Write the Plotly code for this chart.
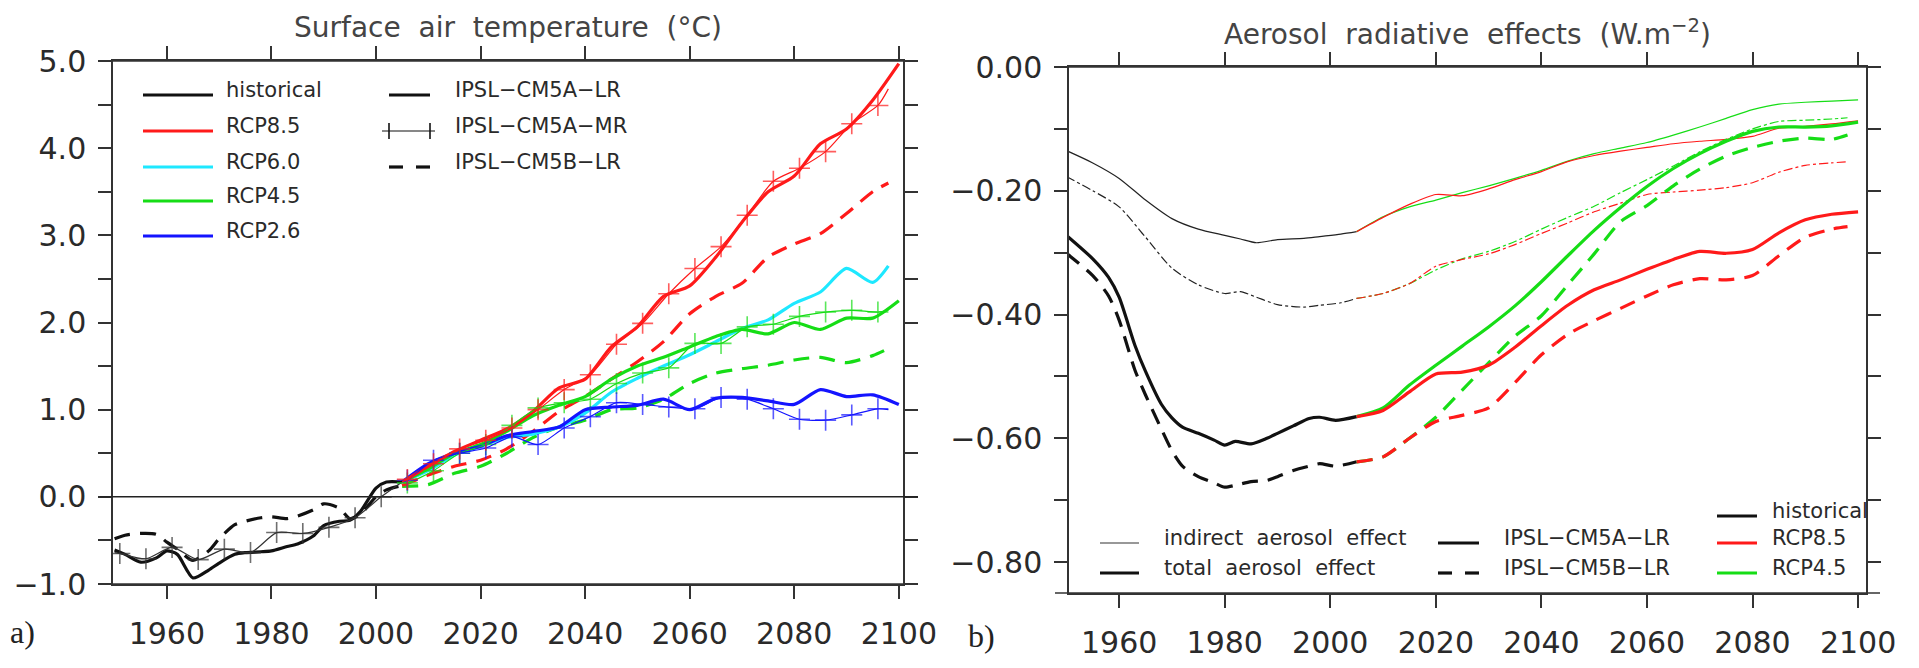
import plotly.graph_objects as go

W, H = 1919, 668
def px(x): return x / W
def py(y): return 1 - y / H

# ---------------- Left panel: surface air temperature (deg C) ----------------
hist_years = [1950, 1952, 1955, 1958, 1960, 1962, 1965, 1968, 1970, 1973, 1975, 1978, 1980,
              1983, 1985, 1988, 1990, 1993, 1995, 1997, 2000, 2002, 2005]
hist_lr = [-0.61, -0.66, -0.75, -0.70, -0.62, -0.66, -0.93, -0.84, -0.76, -0.66, -0.64, -0.63, -0.62,
           -0.57, -0.54, -0.45, -0.33, -0.28, -0.27, -0.17, 0.10, 0.17, 0.17]
hist_5b = [-0.48, -0.44, -0.42, -0.43, -0.52, -0.60, -0.73, -0.62, -0.48, -0.32, -0.28, -0.24, -0.23,
           -0.25, -0.22, -0.15, -0.08, -0.13, -0.25, -0.20, 0.00, 0.08, 0.13]
hist_mr_years = [1950, 1951, 1956, 1961, 1966, 1971, 1976, 1981, 1986, 1991, 1996, 2001, 2005]
hist_mr = [-0.64, -0.65, -0.71, -0.58, -0.72, -0.60, -0.64, -0.41, -0.42, -0.35, -0.24, 0.00, 0.17]

rcp_years = [2005, 2010, 2015, 2020, 2025, 2030, 2035, 2040, 2045, 2050, 2055, 2060, 2065, 2070,
             2075, 2080, 2085, 2090, 2095, 2100]
rcp_years_98 = rcp_years[:-1] + [2098]
mr_years = [2005, 2006, 2011, 2016, 2021, 2026, 2031, 2036, 2041, 2046, 2051, 2056, 2061, 2066,
            2071, 2076, 2081, 2086, 2091, 2096, 2098]

rcp85_lr = [0.17, 0.35, 0.52, 0.65, 0.78, 0.98, 1.25, 1.35, 1.72, 1.95, 2.30, 2.42, 2.75, 3.15,
            3.50, 3.68, 4.05, 4.22, 4.55, 4.97]
rcp85_mr = [0.17, 0.20, 0.38, 0.55, 0.65, 0.79, 1.00, 1.23, 1.40, 1.75, 1.99, 2.33, 2.62, 2.87,
            3.23, 3.62, 3.77, 3.96, 4.28, 4.49, 4.68]
rcp85_5b = [0.13, 0.25, 0.35, 0.42, 0.55, 0.75, 0.98, 1.15, 1.35, 1.55, 1.78, 2.10, 2.30, 2.45,
            2.75, 2.90, 3.02, 3.25, 3.50, 3.60]
rcp60_lr = [0.17, 0.30, 0.48, 0.58, 0.68, 0.72, 0.80, 0.96, 1.20, 1.36, 1.50, 1.63, 1.78, 1.93,
            2.03, 2.22, 2.35, 2.62, 2.46, 2.65]
rcp45_lr = [0.17, 0.32, 0.50, 0.60, 0.75, 0.93, 1.05, 1.15, 1.35, 1.50, 1.60, 1.72, 1.84, 1.92,
            1.87, 2.00, 1.92, 2.05, 2.05, 2.25]
rcp45_mr = [0.17, 0.16, 0.30, 0.50, 0.60, 0.82, 1.02, 1.08, 1.12, 1.30, 1.42, 1.48, 1.76, 1.76,
            1.95, 1.98, 2.07, 2.12, 2.14, 2.12, 2.14]
rcp45_5b = [0.12, 0.14, 0.27, 0.35, 0.50, 0.68, 0.80, 0.88, 1.00, 1.02, 1.12, 1.30, 1.42, 1.47,
            1.51, 1.57, 1.60, 1.54, 1.62, 1.70]
rcp26_lr = [0.17, 0.38, 0.50, 0.58, 0.70, 0.75, 0.80, 1.00, 1.03, 1.05, 1.12, 1.00, 1.13, 1.14,
            1.10, 1.06, 1.23, 1.15, 1.17, 1.06]
rcp26_mr = [0.17, 0.19, 0.42, 0.50, 0.56, 0.69, 0.60, 0.79, 0.92, 1.08, 1.06, 1.03, 1.01, 1.14,
            1.12, 1.01, 0.89, 0.88, 0.94, 1.01, 1.00]

# ---------------- Right panel: aerosol radiative effects (W m-2) ----------------
ae_hist_years = [1950, 1955, 1960, 1965, 1970, 1975, 1980, 1983, 1986, 1990, 1995, 1998, 2002, 2005]
ind_hist_lr = [-0.135, -0.155, -0.180, -0.215, -0.245, -0.262, -0.272, -0.278, -0.284, -0.279,
               -0.277, -0.274, -0.270, -0.266]
ind_hist_5b = [-0.177, -0.200, -0.226, -0.275, -0.325, -0.352, -0.366, -0.363, -0.372, -0.384,
               -0.388, -0.385, -0.381, -0.374]
tot_hist_years = [1950, 1955, 1958, 1960, 1963, 1965, 1968, 1970, 1972, 1975, 1978, 1980, 1982,
                  1985, 1988, 1990, 1993, 1996, 1998, 2001, 2005]
tot_hist_lr = [-0.272, -0.310, -0.340, -0.372, -0.450, -0.492, -0.545, -0.567, -0.582, -0.592,
               -0.603, -0.611, -0.605, -0.609, -0.600, -0.592, -0.580, -0.568, -0.566, -0.571, -0.565]
tot_hist_5b = [-0.301, -0.337, -0.370, -0.409, -0.490, -0.530, -0.585, -0.620, -0.645, -0.662,
               -0.672, -0.679, -0.676, -0.670, -0.668, -0.662, -0.652, -0.645, -0.641, -0.645, -0.638]

ind85_lr = [-0.266, -0.243, -0.222, -0.206, -0.208, -0.197, -0.182, -0.169, -0.153, -0.143, -0.136,
            -0.130, -0.124, -0.120, -0.117, -0.112, -0.099, -0.096, -0.092, -0.087]
ind45_lr = [-0.266, -0.242, -0.226, -0.215, -0.203, -0.192, -0.180, -0.167, -0.152, -0.140, -0.131,
            -0.122, -0.110, -0.097, -0.083, -0.069, -0.060, -0.057, -0.055, -0.053]
ind85_5b = [-0.374, -0.366, -0.350, -0.322, -0.311, -0.302, -0.287, -0.269, -0.252, -0.234, -0.220,
            -0.206, -0.202, -0.199, -0.195, -0.187, -0.170, -0.159, -0.155, -0.153]
ind45_5b = [-0.374, -0.366, -0.350, -0.328, -0.310, -0.298, -0.282, -0.262, -0.243, -0.225, -0.203,
            -0.182, -0.160, -0.137, -0.117, -0.100, -0.088, -0.086, -0.084, -0.082]
tot85_lr = [-0.565, -0.555, -0.525, -0.496, -0.493, -0.482, -0.453, -0.418, -0.385, -0.360, -0.344,
            -0.327, -0.311, -0.298, -0.301, -0.295, -0.268, -0.247, -0.238, -0.234]
tot45_lr = [-0.565, -0.551, -0.514, -0.482, -0.451, -0.420, -0.386, -0.347, -0.305, -0.264, -0.227,
            -0.193, -0.164, -0.140, -0.120, -0.104, -0.097, -0.097, -0.095, -0.089]
tot85_5b = [-0.638, -0.630, -0.600, -0.573, -0.563, -0.551, -0.510, -0.465, -0.432, -0.410, -0.390,
            -0.370, -0.352, -0.342, -0.344, -0.337, -0.305, -0.275, -0.262, -0.258]
tot45_5b = [-0.638, -0.630, -0.600, -0.566, -0.522, -0.478, -0.435, -0.402, -0.352, -0.302, -0.250,
            -0.224, -0.192, -0.165, -0.144, -0.130, -0.120, -0.115, -0.117, -0.110]

# ---------------- styling ----------------
BLACK = "#111111"
RED = "#ff1a1a"
CYAN = "#1ee8ff"
GREEN = "#16dd16"
BLUE = "#1414ff"
TXT = "#2a2a2a"
FONT = "DejaVu Sans"
THICK = 3.2
THIN = 1.2
DASH = "16px,10px"

fig = go.Figure()

def line(x, y, color, width, dash="solid", xa="x", ya="y"):
    fig.add_trace(go.Scatter(x=x, y=y, mode="lines", xaxis=xa, yaxis=ya,
                             line=dict(color=color, width=width, dash=dash, shape="spline", smoothing=0.7),
                             showlegend=False, hoverinfo="x+y"))

def plus_line(x, y, color):
    sizes = [0 if (yr - 1951) % 5 else 15 for yr in x]
    fig.add_trace(go.Scatter(x=x, y=y, mode="lines+markers", xaxis="x", yaxis="y",
                             line=dict(color=color, width=THIN, shape="spline", smoothing=0.7),
                             marker=dict(symbol="cross-thin", size=sizes,
                                         line=dict(color=color, width=1.6)),
                             showlegend=False, hoverinfo="x+y"))

# left panel traces
line(hist_years, hist_5b, BLACK, THICK, DASH)
line(rcp_years_98, rcp45_5b, GREEN, THICK, DASH)
line(rcp_years_98, rcp85_5b, RED, THICK, DASH)
line(rcp_years_98, rcp60_lr, CYAN, THICK)
line(rcp_years, rcp45_lr, GREEN, THICK)
line(rcp_years, rcp26_lr, BLUE, THICK)
line(rcp_years, rcp85_lr, RED, THICK)
line(hist_years, hist_lr, BLACK, THICK)
plus_line(hist_mr_years, hist_mr, "#333333")
plus_line(mr_years, rcp45_mr, GREEN)
plus_line(mr_years, rcp26_mr, BLUE)
plus_line(mr_years, rcp85_mr, RED)

# right panel traces
line(ae_hist_years, ind_hist_lr, "#222222", THIN, "solid", "x2", "y2")
line(ae_hist_years, ind_hist_5b, "#222222", THIN, "dashdot", "x2", "y2")
line(rcp_years, ind45_lr, GREEN, THIN, "solid", "x2", "y2")
line(rcp_years, ind85_lr, RED, THIN, "solid", "x2", "y2")
line(rcp_years_98, ind45_5b, GREEN, THIN, "dashdot", "x2", "y2")
line(rcp_years_98, ind85_5b, RED, THIN, "dashdot", "x2", "y2")
line(tot_hist_years, tot_hist_lr, BLACK, THICK, "solid", "x2", "y2")
line(tot_hist_years, tot_hist_5b, BLACK, THICK, DASH, "x2", "y2")
line(rcp_years_98, tot45_5b, GREEN, THICK, DASH, "x2", "y2")
line(rcp_years_98, tot85_5b, RED, THICK, DASH, "x2", "y2")
line(rcp_years, tot45_lr, GREEN, THICK, "solid", "x2", "y2")
line(rcp_years, tot85_lr, RED, THICK, "solid", "x2", "y2")

# ---------------- axes ----------------
L_X0, L_X1, L_Y0, L_Y1 = 113, 903, 61, 584
R_X0, R_X1, R_Y0, R_Y1 = 1069, 1866, 67, 593
tickfont = dict(family=FONT, size=30, color=TXT)
common_x = dict(showgrid=False, zeroline=False, showline=True, linecolor="#333", linewidth=1.5,
                mirror="ticks", ticks="outside", ticklen=13, tickwidth=1.5, tickcolor="#333",
                tickmode="array", tickvals=[1960, 1980, 2000, 2020, 2040, 2060, 2080, 2100],
                ticktext=["1960", "1980", "2000", "2020", "2040", "2060", "2080", "2100"],
                tickfont=tickfont, ticklabelstandoff=9, automargin=False, fixedrange=True)
common_y = dict(showgrid=False, zeroline=False, showline=True, linecolor="#333", linewidth=1.5,
                mirror="ticks", ticks="outside", ticklen=13, tickwidth=1.5, tickcolor="#333",
                tickfont=tickfont, ticklabelstandoff=6, automargin=False, fixedrange=True)

fig.update_layout(
    width=W, height=H, margin=dict(l=0, r=0, t=0, b=0),
    paper_bgcolor="white", plot_bgcolor="white", showlegend=False,
    xaxis=dict(common_x, domain=[px(L_X0), px(L_X1)], range=[1949.7, 2100.8], anchor="y"),
    yaxis=dict(common_y, domain=[py(L_Y1), py(L_Y0)], range=[-1.0, 5.0], anchor="x",
               tickmode="linear", tick0=0, dtick=1, tickformat=".1f",
               minor=dict(dtick=0.5, tick0=0, ticks="outside", ticklen=13, tickwidth=1.5,
                          tickcolor="#333", showgrid=False)),
    xaxis2=dict(common_x, domain=[px(R_X0), px(R_X1)], range=[1950.5, 2101.5], anchor="y2"),
    yaxis2=dict(common_y, domain=[py(R_Y1), py(R_Y0)], range=[-0.85, 0.0], anchor="x2",
                tickmode="linear", tick0=0, dtick=0.2, tickformat=".2f",
                minor=dict(dtick=0.1, tick0=0, ticks="outside", ticklen=13, tickwidth=1.5,
                           tickcolor="#333", showgrid=False)),
)

shapes = []
ann = []

def hline(x0, x1, y, color="#333", width=1.5, dash="solid"):
    shapes.append(dict(type="line", xref="paper", yref="paper", x0=px(x0), x1=px(x1),
                       y0=py(y), y1=py(y), line=dict(color=color, width=width, dash=dash)))

def vline(x, y0, y1, color="#333", width=1.5):
    shapes.append(dict(type="line", xref="paper", yref="paper", x0=px(x), x1=px(x),
                       y0=py(y0), y1=py(y1), line=dict(color=color, width=width)))

def text(x, y, s, size, xanchor="left", family=FONT, color=TXT):
    ann.append(dict(xref="paper", yref="paper", x=px(x), y=py(y), text=s, showarrow=False,
                    xanchor=xanchor, yanchor="middle",
                    font=dict(family=family, size=size, color=color)))

# frame extensions (horizontal lines overshoot the frame)
for y in (L_Y0, L_Y1):
    hline(L_X0 - 13, L_X1 + 15, y)
for y in (R_Y0, R_Y1):
    hline(R_X0 - 14, R_X1 + 14, y)
# zero line on left panel
shapes.append(dict(type="line", xref="x domain", yref="y", x0=-13 / 790, x1=1 + 15 / 790,
                   y0=0, y1=0, line=dict(color="#222", width=1.5)))

# titles
text((L_X0 + L_X1) / 2, 27, "Surface\u00a0 air\u00a0 temperature\u00a0 (°C)", 28, "center", color="#444")
text((R_X0 + R_X1) / 2, 32, "Aerosol\u00a0 radiative\u00a0 effects\u00a0 (W.m<sup>−2</sup>)", 28, "center", color="#444")
text(8, 632, "a)", 32, "left", "Liberation Serif", "#222")
text(966, 636, "b)", 32, "left", "Liberation Serif", "#222")

# left legend
left_rows = [("historical", BLACK, 95), ("RCP8.5", RED, 131), ("RCP6.0", CYAN, 167),
             ("RCP4.5", GREEN, 201), ("RCP2.6", BLUE, 236)]
for name, col, y in left_rows:
    hline(143, 213, y, col, THICK)
    text(224, y - 5, name, 21)
hline(389, 430, 95, BLACK, THICK)
text(453, 90, "IPSL−CM5A−LR", 21)
hline(382, 435, 131, BLACK, THIN)
vline(389, 123, 139, BLACK, 1.6)
vline(430, 123, 139, BLACK, 1.6)
text(453, 126, "IPSL−CM5A−MR", 21)
hline(389, 403, 167, BLACK, THICK)
hline(416, 430, 167, BLACK, THICK)
text(453, 162, "IPSL−CM5B−LR", 21)

# right legend
hline(1100, 1139, 543, "#333", THIN)
text(1162, 538, "indirect\u00a0 aerosol\u00a0 effect", 21)
hline(1100, 1139, 573, BLACK, THICK)
text(1162, 568, "total\u00a0 aerosol\u00a0 effect", 21)
hline(1438, 1479, 543, BLACK, THICK)
text(1502, 538, "IPSL−CM5A−LR", 21)
hline(1438, 1452, 573, BLACK, THICK)
hline(1465, 1479, 573, BLACK, THICK)
text(1502, 568, "IPSL−CM5B−LR", 21)
for name, col, y in [("historical", BLACK, 516), ("RCP8.5", RED, 543), ("RCP4.5", GREEN, 573)]:
    hline(1717, 1757, y, col, THICK)
    text(1770, y - 5, name, 21)

fig.update_layout(shapes=shapes, annotations=ann)
fig.write_html("out.html")
